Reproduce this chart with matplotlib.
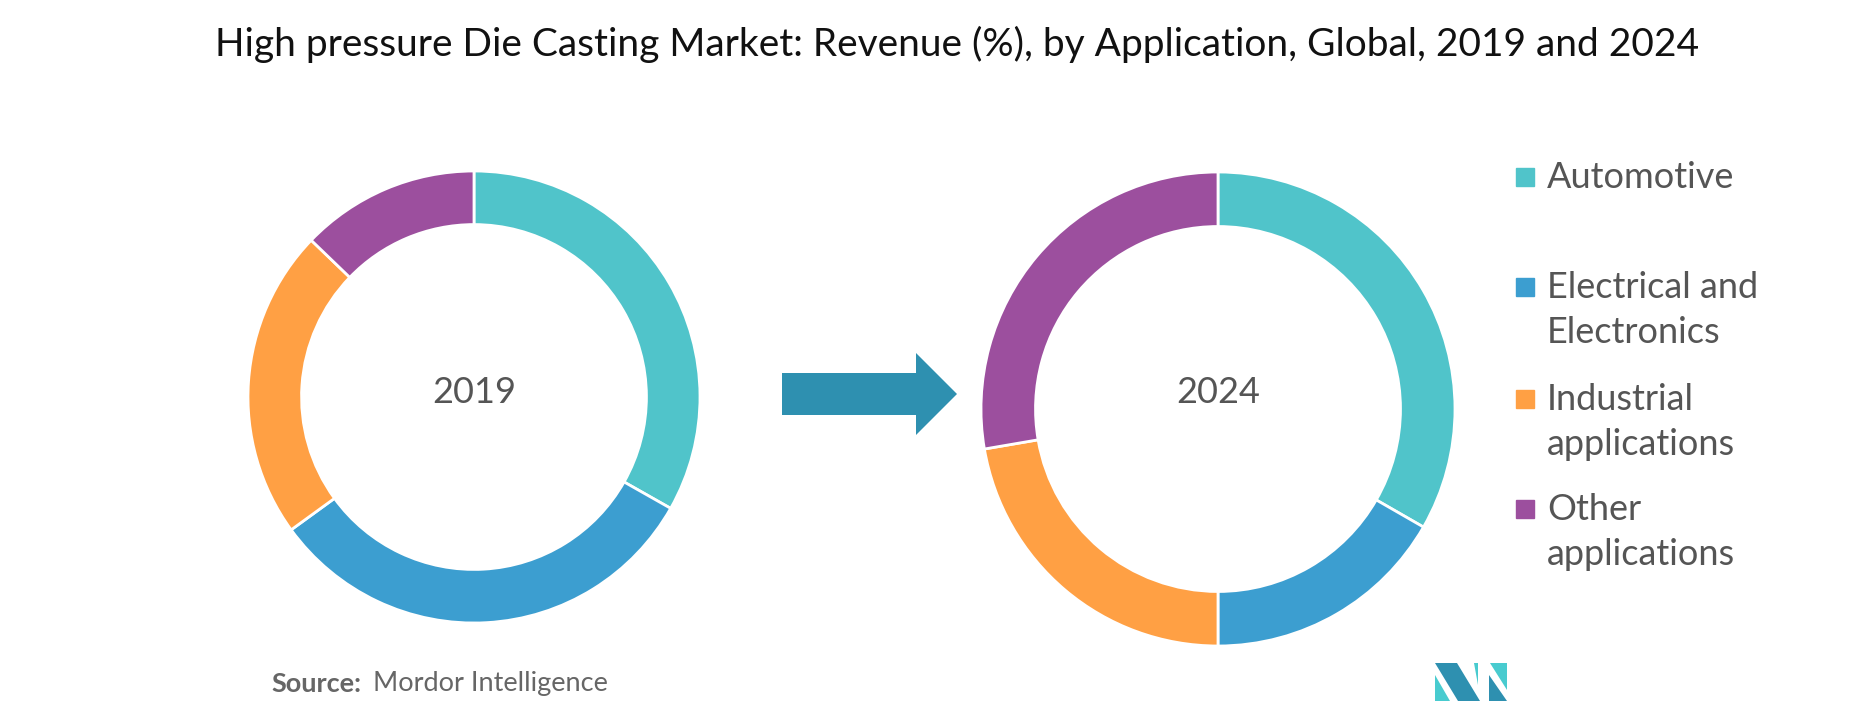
import matplotlib.pyplot as plt
from matplotlib.patches import FancyArrow, Polygon

categories = ['Automotive', 'Electrical and\nElectronics', 'Industrial\napplications', 'Other\napplications']
share_2019 = [33.2, 31.8, 22.2, 12.8]
share_2024 = [33.3, 16.7, 22.3, 27.7]
colors = ['#50C4CA', '#3C9ED0', '#FFA044', '#9C4F9E']

W, H = 1852, 720
fig = plt.figure(figsize=(W / 100, H / 100), dpi=100)
plt.rcParams['font.family'] = ['Lato', 'DejaVu Sans']

def donut(cx, cy, r, values, label, width):
    ax = fig.add_axes([(cx - r) / W, (H - cy - r) / H, 2 * r / W, 2 * r / H])
    ax.pie(values, colors=colors, startangle=90, counterclock=False, radius=1,
           wedgeprops=dict(width=width, edgecolor='white', linewidth=2))
    ax.set_xlim(-1, 1)
    ax.set_ylim(-1, 1)
    ax.axis('off')
    fig.text(cx / W, 1 - 393 / H, label, ha='center', va='center', fontsize=26, color='#555555')

donut(474, 397, 226, share_2019, '2019', 0.237)
donut(1218, 409, 237, share_2024, '2024', 0.23)

fig.text(957 / W, 1 - 44 / H, 'High pressure Die Casting Market: Revenue (%), by Application, Global, 2019 and 2024',
         ha='center', va='center', fontsize=28, color='#111111')

# arrow between donuts
fig.patches.append(FancyArrow(782 / W, 1 - 394 / H, (916 - 782) / W, 0, width=42 / H,
                              head_width=82 / H, head_length=41 / W, length_includes_head=False,
                              transform=fig.transFigure, color='#2E90B0', linewidth=0))

# legend
legend_y = [177, 310, 422, 532]
for name, col, y in zip(categories, colors, legend_y):
    first_line_y = y if '\n' not in name else y - 23
    fig.patches.append(plt.Rectangle((1516 / W, 1 - (first_line_y + 9) / H), 18 / W, 18 / H,
                                     transform=fig.transFigure, color=col))
    fig.text(1547 / W, 1 - y / H, name, ha='left', va='center', fontsize=26, color='#555555',
             linespacing=1.42)

fig.text(271 / W, 1 - 684 / H, 'Source:', ha='left', va='center', fontsize=19.5,
         fontweight='bold', color='#666666')
fig.text(373 / W, 1 - 684 / H, 'Mordor Intelligence', ha='left', va='center', fontsize=19.5,
         color='#666666')

# logo
def px(points):
    return [(x / W, 1 - y / H) for x, y in points]

logo = [
    ([(1435, 663), (1457, 663), (1480, 701), (1458, 701), (1435, 663)], '#2E90B0'),
    ([(1435, 675), (1450, 701), (1435, 701)], '#48CBCF'),
    ([(1474, 663), (1478, 663), (1478, 685)], '#48CBCF'),
    ([(1481, 663), (1507, 663), (1507, 690), (1490, 663)], '#48CBCF'),
    ([(1489, 675), (1507, 701), (1489, 701)], '#2E90B0'),
]
for pts, col in logo:
    fig.patches.append(Polygon(px(pts), closed=True, transform=fig.transFigure, color=col, linewidth=0))

fig.savefig('out.png', dpi=100, facecolor='white')
